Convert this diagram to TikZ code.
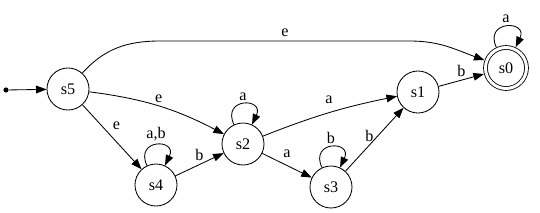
\documentclass[tikz,border=0pt]{standalone}
\usepackage{fontspec}
\setmainfont{Liberation Serif}
\usetikzlibrary{arrows.meta,positioning}

\begin{document}
\begin{tikzpicture}[
    x=0.025cm, y=-0.025cm,
    font=\fontsize{11.5}{13}\selectfont,
    st/.style={circle, draw, line width=0.6pt, minimum size=1.05cm, inner sep=0pt},
    final/.style={st, minimum size=1.025cm, double, double distance=2.1pt, outer sep=1.7pt},
    tr/.style={-{Triangle[length=7.5pt,width=5.5pt]}, line width=0.6pt},
    lab/.style={inner sep=2.5pt},
    selfloop/.style={looseness=1, min distance=7.5mm, out=115, in=65}
]
\useasboundingbox (0,0) rectangle (540,212);
\node[circle, fill, inner sep=1.3pt] (start) at (6,90) {};
\node[st] (s5) at (68,89) {s5};
\node[st] (s4) at (156,185) {s4};
\node[st] (s2) at (243,144) {s2};
\node[st] (s3) at (331,187) {s3};
\node[st] (s1) at (418,92) {s1};
\node[final] (s0) at (506,68) {s0};
% transitions
\draw[tr] (start) -- (s5);
\draw[tr] (s5) to[out=48, in=180] (160,41) -- node[lab, above, pos=0.5] {e} (410,41) to[out=0, in=160] (s0);
\draw[tr] (s5) to[bend left=10] node[lab, above] {e} (s2);
\draw[tr] (s5) -- node[lab, above right, pos=0.45] {e} (s4);
\draw[tr] (s4) to[selfloop] node[lab, above] {a,b} (s4);
\draw[tr] (s4) -- node[lab, above] {b} (s2);
\draw[tr] (s2) to[selfloop] node[lab, above] {a} (s2);
\draw[tr] (s2) to[bend left=5] node[lab, above=4pt] {a} (s1);
\draw[tr] (s2) -- node[lab, above=3pt] {a} (s3);
\draw[tr] (s3) to[selfloop] node[lab, above] {b} (s3);
\draw[tr] (s3) -- node[lab, left, pos=0.55] {b} (s1);
\draw[tr] (s1) -- node[lab, above] {b} (s0);
\draw[tr] (s0) to[selfloop] node[lab, above] {a} (s0);
\end{tikzpicture}
\end{document}
